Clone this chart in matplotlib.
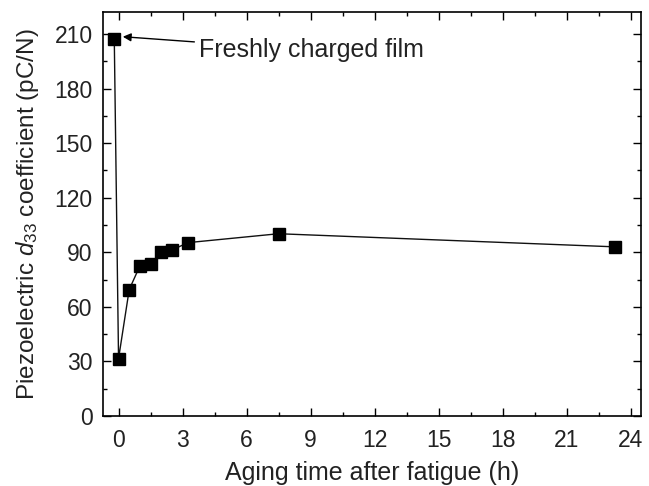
import numpy as np
import matplotlib.pyplot as plt
from matplotlib.ticker import MultipleLocator

plt.rcParams['font.family'] = ['Liberation Sans', 'DejaVu Sans']
plt.rcParams['mathtext.fontset'] = 'custom'
plt.rcParams['mathtext.it'] = 'Liberation Sans:italic'
plt.rcParams['mathtext.rm'] = 'Liberation Sans'

# aging time (h) and d33 (pC/N)
hours = [-0.2, 0.0, 0.5, 1.0, 1.5, 2.0, 2.5, 3.25, 7.5, 23.25]
d33 = [207.5, 31.5, 69.5, 82.5, 83.5, 90.2, 91.2, 95.3, 100.2, 93.0]

x_ticks = [0, 3, 6, 9, 12, 15, 18, 21, 24]
y_ticks = [0, 30, 60, 90, 120, 150, 180, 210]

fig = plt.figure(figsize=(6.49, 4.86), dpi=100)
ax = fig.add_axes([0.158, 0.144, 0.830, 0.831])

ax.plot(hours, d33, color='#111111', lw=1.0, marker='s', ms=8.2,
        markerfacecolor='black', markeredgecolor='black')

ax.annotate('Freshly charged film', xy=(0.2, 208.5), xytext=(3.75, 201),
            fontsize=18, va='center', ha='left', color='#222222',
            arrowprops=dict(arrowstyle='-|>', color='black', lw=1.0,
                            shrinkA=1, shrinkB=0, mutation_scale=12))

ax.set_xlim(-0.75, 24.5)
ax.set_ylim(0, 222)
ax.set_xticks(x_ticks)
ax.set_yticks(y_ticks)
ax.xaxis.set_minor_locator(MultipleLocator(1.5))
ax.yaxis.set_minor_locator(MultipleLocator(15))
ax.tick_params(which='both', direction='in', top=True, right=True,
               labelsize=16.5, width=1.0, labelcolor='#222222')
ax.tick_params(which='major', length=6)
ax.tick_params(which='minor', length=3)
ax.tick_params(axis='x', pad=9)
ax.tick_params(axis='y', pad=7)
for s in ax.spines.values():
    s.set_linewidth(1.2)

ax.set_xlabel('Aging time after fatigue (h)', fontsize=18, labelpad=7, color='#222222')
ax.set_ylabel('Piezoelectric $d_{33}$ coefficient (pC/N)', fontsize=17.5,
              labelpad=10, color='#222222')

fig.savefig('out.png', dpi=100)
